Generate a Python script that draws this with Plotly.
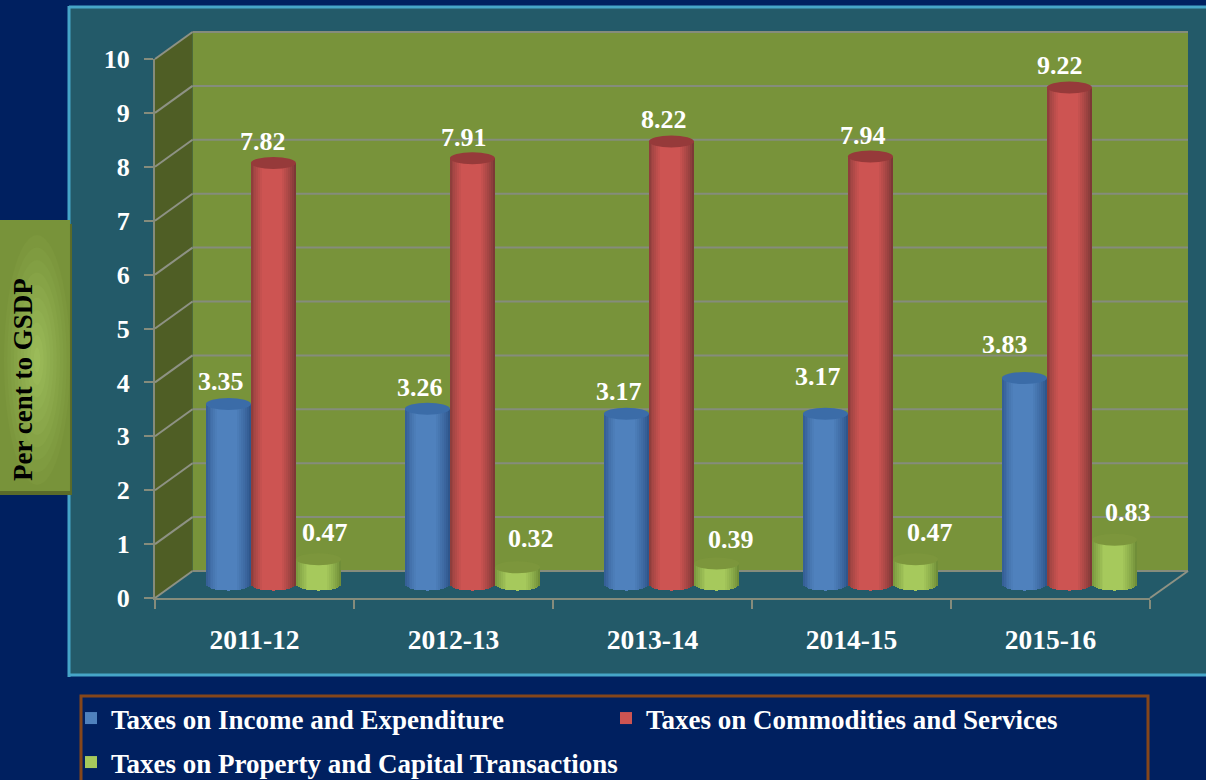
import math
import plotly.graph_objects as go

W, H = 1206, 780
YEARS = ["2011-12", "2012-13", "2013-14", "2014-15", "2015-16"]
INCOME = [3.35, 3.26, 3.17, 3.17, 3.83]
COMMODITIES = [7.82, 7.91, 8.22, 7.94, 9.22]
PROPERTY = [0.47, 0.32, 0.39, 0.47, 0.83]

NAMES = ["Taxes on Income and Expenditure", "Taxes on Commodities and Services",
         "Taxes on Property and Capital Transactions"]
SERIES = [INCOME, COMMODITIES, PROPERTY]
EDGE = [(47, 86, 140), (125, 56, 54), (112, 142, 56)]
MID = [(79, 129, 189), (205, 84, 82), (166, 201, 92)]
CAP = ["#3B6CA8", "#963A3A", "#7C963C"]
OFFSET = [-0.131, 0.095, 0.322]
LABEL_DX = [[-7, -7, -7, -7, -19], [-10, -8, -7, -7, -9], [6, 13, 14, 14, 13]]
LABEL_UP = [[22, 21, 22, 37, 34], [21, 21, 22, 21, 22], [27, 29, 24, 27, 27]]

NAVY, TEAL, CYAN = "#002060", "#235A69", "#46A5C8"
WALL, SIDE, GRID = "#78933A", "#4F5E25", "#858C7C"
FONT = "Liberation Serif"

X0, X1, Y0, Y10 = 155, 1150, 598, 59
DX, DY = 37.5, 27
UNIT = (Y0 - Y10) / 10
BASE = DY / 2 / UNIT
RY = 6 / UNIT
CW = 45 / ((X1 - X0) / 5)
N = 23


def px(x):
    return x / W


def py(y):
    return 1 - y / H


def mix(a, b, t):
    return "rgb(%d,%d,%d)" % tuple(round(a[k] + (b[k] - a[k]) * t) for k in range(3))


fig = go.Figure()
for s, vals in enumerate(SERIES):
    for j in range(N):
        u = (j + 0.5) / N * 2 - 1
        t = min(1.0, max(0.0, 1 - abs(u + 0.05)) / 0.6) ** 0.8
        sag = RY * math.sqrt(1 - u * u)
        centre = j == N // 2
        fig.add_trace(go.Bar(
            x=[i + OFFSET[s] + u * CW / 2 for i in range(5)],
            y=[v + sag for v in vals],
            base=[BASE - sag] * 5,
            width=CW / N * 1.35,
            marker=dict(color=mix(EDGE[s], MID[s], t), line=dict(width=0)),
            name=NAMES[s], showlegend=centre,
            legend="legend2" if s == 2 else "legend",
            hoverinfo="skip",
        ))

shapes = []


def poly(pts, fill, layer="below"):
    d = "M" + " L".join(f"{px(a):.5f},{py(b):.5f}" for a, b in pts) + " Z"
    shapes.append(dict(type="path", xref="paper", yref="paper", path=d, fillcolor=fill,
                       line=dict(width=0), layer=layer))


def line(x0, y0, x1, y1, color=GRID, w=2):
    shapes.append(dict(type="line", xref="paper", yref="paper", x0=px(x0), x1=px(x1),
                       y0=py(y0), y1=py(y1), line=dict(color=color, width=w), layer="below"))


# panel
poly([(69, 7), (1210, 7), (1210, 676), (69, 676)], TEAL)
line(69, 7, 1206, 7, CYAN, 3)
line(69, 6, 69, 677, CYAN, 3)
line(69, 675, 1206, 675, CYAN, 3)
# 3D box
poly([(X0 + DX, Y10 - DY), (1188, Y10 - DY), (1188, Y0 - DY), (X0 + DX, Y0 - DY)], WALL)
poly([(X0, Y0), (X0 + DX, Y0 - DY), (X0 + DX, Y10 - DY), (X0, Y10)], SIDE)
for k in range(0, 11):
    yy = Y0 - k * UNIT
    line(X0, yy, X0 + DX, yy - DY, "#8E9284")
    line(X0 + DX, yy - DY, 1188, yy - DY)
line(X1, Y0, 1188, Y0 - DY, "#8E9284")
# axis title box
poly([(0, 220), (72, 224), (72, 495), (0, 495)], "#5A6B2A")
poly([(0, 220), (70, 220), (70, 491), (0, 491)], "#78933A")
for g in range(10):
    f = 1 - g / 10
    shapes.append(dict(type="circle", xref="paper", yref="paper", x0=px(37 - 33 * f), x1=px(37 + 33 * f),
                       y0=py(360 + 125 * f), y1=py(360 - 125 * f), fillcolor=mix((120, 147, 58), (155, 187, 89), (g + 1) / 10),
                       line=dict(width=0), layer="below"))
# legend frame
shapes.append(dict(type="rect", xref="paper", yref="paper", x0=px(81), x1=px(1148), y0=py(790), y1=py(696),
                   line=dict(color="#85461A", width=3), fillcolor=NAVY, layer="below"))

# cylinder caps
for s, vals in enumerate(SERIES):
    for i, v in enumerate(vals):
        cx = i + OFFSET[s]
        shapes.append(dict(type="circle", xref="x", yref="y", x0=cx - CW / 2, x1=cx + CW / 2,
                           y0=v + BASE - RY, y1=v + BASE + RY, fillcolor=CAP[s],
                           line=dict(width=0), layer="above"))

annotations = []
for s, vals in enumerate(SERIES):
    for i, v in enumerate(vals):
        annotations.append(dict(x=i + OFFSET[s], y=v + BASE, xref="x", yref="y", text=f"<b>{v:.2f}</b>",
                                showarrow=False, xshift=LABEL_DX[s][i], yshift=LABEL_UP[s][i],
                                font=dict(family=FONT, size=26, color="white"), yanchor="middle"))
annotations.append(dict(x=px(23), y=py(380), xref="paper", yref="paper", text="<b>Per cent to GSDP</b>",
                        showarrow=False, textangle=-90, xanchor="center", yanchor="middle",
                        font=dict(family=FONT, size=27, color="black")))

LFONT = dict(family=FONT, size=27, color="white", weight="bold")
fig.update_layout(
    width=W, height=H, autosize=False, margin=dict(l=0, r=0, t=0, b=0, pad=0, autoexpand=False),
    paper_bgcolor=NAVY, plot_bgcolor="rgba(0,0,0,0)", barmode="overlay", bargap=0,
    font=dict(family=FONT, size=26, color="white", weight="bold"),
    shapes=shapes, annotations=annotations,
    legend=dict(orientation="h", x=px(71), y=py(694), xanchor="left", yanchor="top",
                entrywidth=490, entrywidthmode="pixels", bgcolor="rgba(0,0,0,0)", font=LFONT),
    legend2=dict(orientation="h", x=px(71), y=py(738), xanchor="left", yanchor="top",
                 bgcolor="rgba(0,0,0,0)", font=LFONT),
    xaxis=dict(domain=[px(X0), px(X1)], range=[-0.5, 4.5], tickmode="array", tickvals=list(range(5)),
               ticktext=YEARS, ticks="", showgrid=False, zeroline=False, showline=True, linecolor=GRID, linewidth=2,
               ticklabelstandoff=16, tickfont=dict(family=FONT, size=27.5, color="white", weight="bold"),
               minor=dict(tickmode="array", tickvals=[-0.5, 0.5, 1.5, 2.5, 3.5, 4.5], ticks="outside",
                          ticklen=9, tickwidth=2, tickcolor=GRID, showgrid=False)),
    yaxis=dict(domain=[py(Y0), py(Y10)], range=[0, 10], tickmode="array", tickvals=list(range(11)),
               ticks="outside", ticklen=9, tickwidth=2, tickcolor=GRID, showgrid=False, zeroline=False,
               showline=True, linecolor=GRID, linewidth=2, ticklabelstandoff=9,
               tickfont=dict(family=FONT, size=26, color="white", weight="bold")),
)
fig.write_html("out.html", config=dict(displayModeBar=False),
               post_script="document.body.style.margin='0';document.documentElement.style.overflow='hidden';")
